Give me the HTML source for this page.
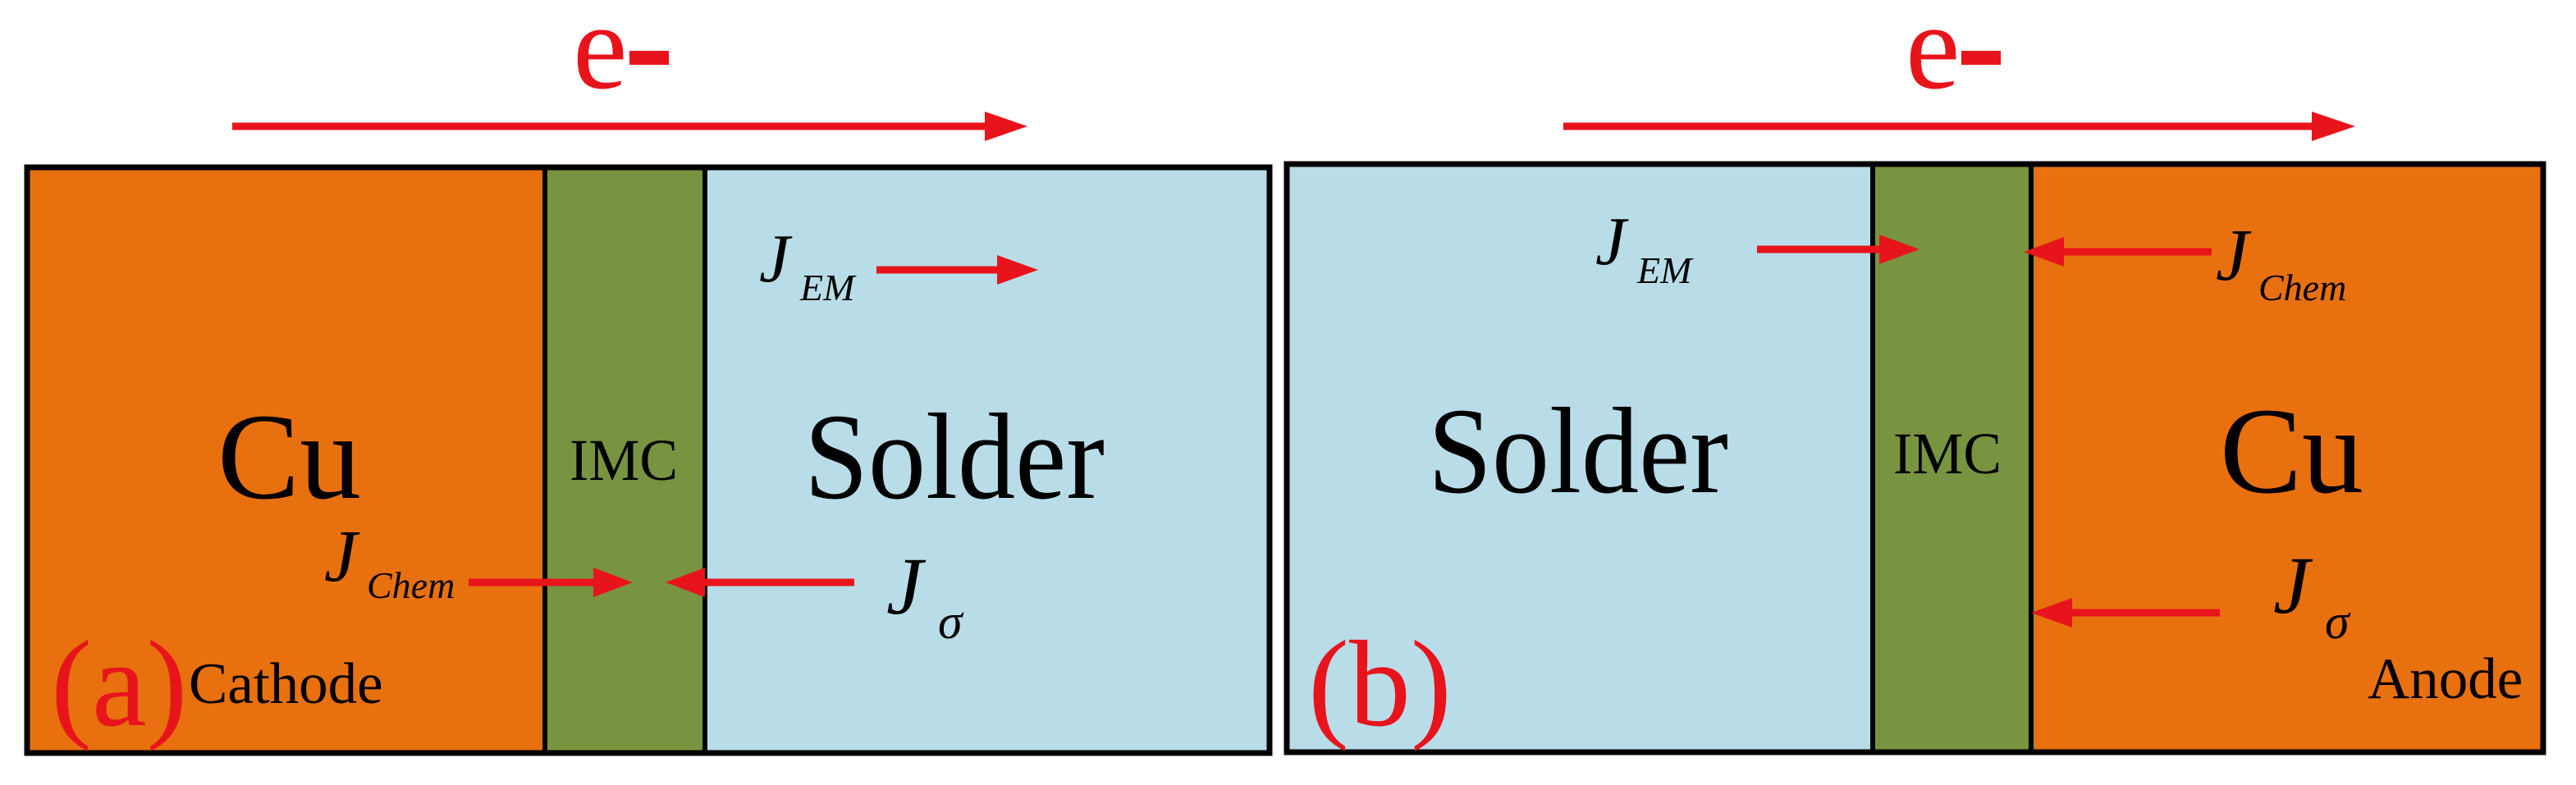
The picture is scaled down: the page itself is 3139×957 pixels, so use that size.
<!DOCTYPE html>
<html><head><meta charset="utf-8"><style>
html,body{margin:0;padding:0;background:#fff;}
svg{display:block;}
svg text{font-family:"Liberation Serif","Times New Roman","DejaVu Serif",serif;}
</style></head><body>
<svg width="3139" height="957" viewBox="0 0 3139 957" xmlns="http://www.w3.org/2000/svg" font-family="Liberation Serif, Times New Roman, DejaVu Serif, serif">
<!-- Panel a -->
<rect x="30" y="202" width="634" height="716" fill="#E8700F"/>
<rect x="664" y="202" width="195" height="716" fill="#789440"/>
<rect x="859" y="202" width="691" height="716" fill="#B8DDE8"/>
<rect x="33" y="204" width="1514" height="714" fill="none" stroke="#000" stroke-width="7"/>
<line x1="664" y1="202" x2="664" y2="918" stroke="#000" stroke-width="6"/>
<line x1="859" y1="202" x2="859" y2="918" stroke="#000" stroke-width="6"/>

<text x="698" y="107" font-size="150" fill="#E8141C">e</text>
<rect x="767" y="62" width="48" height="17" fill="#E8141C"/>
<line x1="283" y1="154" x2="1205" y2="154" stroke="#E8141C" stroke-width="9"/>
<polygon points="1200,136 1252,154 1200,172" fill="#E8141C"/>

<text x="265" y="607" font-size="150">Cu</text>
<text x="694" y="585" font-size="72" textLength="132" lengthAdjust="spacingAndGlyphs">IMC</text>
<text x="980" y="607" font-size="150" textLength="366" lengthAdjust="spacingAndGlyphs">Solder</text>

<text x="925" y="343" font-size="84" font-style="italic">J</text>
<text x="975" y="366" font-size="46" font-style="italic">EM</text>
<line x1="1068" y1="329" x2="1220" y2="329" stroke="#E8141C" stroke-width="9"/>
<polygon points="1215,311 1265,329 1215,347" fill="#E8141C"/>

<text x="395" y="708" font-size="90" font-style="italic">J</text>
<text x="447" y="729" font-size="46" font-style="italic">Chem</text>
<line x1="571" y1="710" x2="728" y2="710" stroke="#E8141C" stroke-width="9"/>
<polygon points="723,692 771,710 723,728" fill="#E8141C"/>
<line x1="1041" y1="710" x2="854" y2="710" stroke="#E8141C" stroke-width="9"/>
<polygon points="859,692 811,710 859,728" fill="#E8141C"/>
<text x="1080" y="748" font-size="100" font-style="italic">J</text>
<text x="1143" y="778" font-size="60" font-style="italic">σ</text>

<text x="62" y="884" font-size="150" fill="#E8141C">(a)</text>
<text x="230" y="857" font-size="71">Cathode</text>

<!-- Panel b -->
<rect x="1565" y="198" width="720" height="720" fill="#B8DDE8"/>
<rect x="2285" y="198" width="194" height="720" fill="#789440"/>
<rect x="2479" y="198" width="623" height="720" fill="#E8700F"/>
<rect x="1568" y="200" width="1531" height="717" fill="none" stroke="#000" stroke-width="7"/>
<line x1="2282" y1="198" x2="2282" y2="918" stroke="#000" stroke-width="6"/>
<line x1="2475" y1="198" x2="2475" y2="918" stroke="#000" stroke-width="6"/>

<text x="2322" y="107" font-size="150" fill="#E8141C">e</text>
<rect x="2390" y="62" width="48" height="17" fill="#E8141C"/>
<line x1="1905" y1="154" x2="2822" y2="154" stroke="#E8141C" stroke-width="9"/>
<polygon points="2817,136 2870,154 2817,172" fill="#E8141C"/>

<text x="1740" y="600" font-size="150" textLength="366" lengthAdjust="spacingAndGlyphs">Solder</text>
<text x="2307" y="577" font-size="72" textLength="132" lengthAdjust="spacingAndGlyphs">IMC</text>
<text x="2705" y="600" font-size="150">Cu</text>

<text x="1944" y="322" font-size="84" font-style="italic">J</text>
<text x="1995" y="345" font-size="46" font-style="italic">EM</text>
<line x1="2141" y1="304" x2="2295" y2="304" stroke="#E8141C" stroke-width="9"/>
<polygon points="2290,286 2339,304 2290,322" fill="#E8141C"/>
<line x1="2695" y1="307" x2="2510" y2="307" stroke="#E8141C" stroke-width="9"/>
<polygon points="2515,289 2466,307 2515,325" fill="#E8141C"/>
<text x="2700" y="341" font-size="90" font-style="italic">J</text>
<text x="2752" y="366" font-size="46" font-style="italic">Chem</text>

<line x1="2705" y1="747" x2="2520" y2="747" stroke="#E8141C" stroke-width="9"/>
<polygon points="2525,729 2475,747 2525,765" fill="#E8141C"/>
<text x="2770" y="747" font-size="100" font-style="italic">J</text>
<text x="2833" y="778" font-size="60" font-style="italic">σ</text>

<text x="1594" y="884" font-size="150" fill="#E8141C">(b)</text>
<text x="2885" y="851" font-size="71">Anode</text>
</svg>
</body></html>
